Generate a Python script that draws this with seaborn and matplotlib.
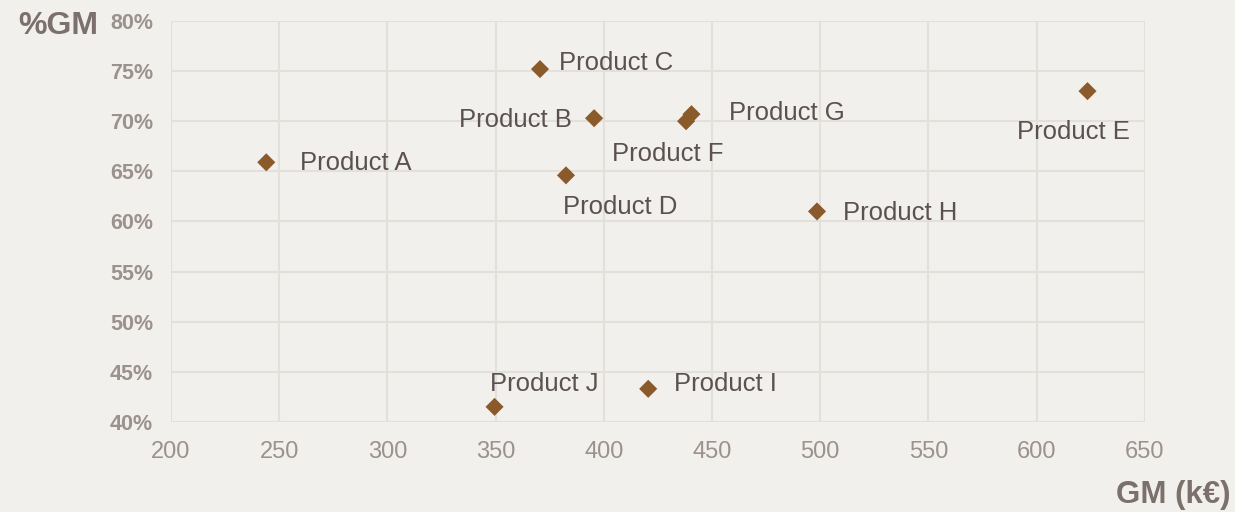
import pandas as pd
import matplotlib.pyplot as plt
import seaborn as sns
from matplotlib.ticker import FuncFormatter

products = ["Product A", "Product B", "Product C", "Product D", "Product E",
            "Product F", "Product G", "Product H", "Product I", "Product J"]
gm_keur = [244, 395.5, 370.5, 382.5, 623.5, 438, 440.5, 498.5, 420.5, 349.5]
gm_pct = [65.9, 70.3, 75.2, 64.6, 73.0, 70.0, 70.7, 61.0, 43.3, 41.5]

# label offsets in pixels (dx, dy, ha)
label_pos = {"Product A": (34, -1, "left"),
             "Product B": (-22, -2, "right"),
             "Product C": (19, 6, "left"),
             "Product D": (-3, -32, "left"),
             "Product E": (-14, -41, "center"),
             "Product F": (-74, -33, "left"),
             "Product G": (38, 1, "left"),
             "Product H": (26, -2, "left"),
             "Product I": (26, 5, "left"),
             "Product J": (-5, 23, "left")}

bg = "#F2F0ED"
grid_c = "#E3E0DC"
tick_c = "#9B918D"
title_c = "#7B706B"
text_c = "#5A5150"
marker_c = "#8B5A2B"

df = pd.DataFrame({"product": products, "gm": gm_keur, "pct": gm_pct})

sns.set_style("white")
plt.rcParams["font.family"] = ["Liberation Sans", "DejaVu Sans"]

fig = plt.figure(figsize=(12.35, 5.12), dpi=100, facecolor=bg)
ax = fig.add_axes([0.1385, 0.176, 0.927 - 0.1385, 0.959 - 0.176])
ax.set_facecolor(bg)

sns.scatterplot(data=df, x="gm", y="pct", marker="D", s=85, color=marker_c,
                edgecolor="none", ax=ax, zorder=3)

for name, x, y in zip(products, gm_keur, gm_pct):
    dx, dy, ha = label_pos[name]
    ax.annotate(name, (x, y), xytext=(dx, dy), textcoords="offset pixels",
                ha=ha, va="center", fontsize=18.5, color=text_c)

ax.set_xlim(200, 650)
ax.set_ylim(40, 80)
ax.set_xticks(range(200, 651, 50))
ax.set_yticks(range(40, 81, 5))
ax.yaxis.set_major_formatter(FuncFormatter(lambda v, p: f"{v:.0f}%"))
ax.grid(True, color=grid_c, linewidth=1.5)
ax.set_axisbelow(True)
for s in ax.spines.values():
    s.set_visible(False)
ax.tick_params(axis="x", length=0, pad=14, labelsize=17, labelcolor=tick_c)
ax.tick_params(axis="y", length=0, pad=13, labelsize=15.5, labelcolor=tick_c)
for lb in ax.get_yticklabels():
    lb.set_fontweight("bold")
ax.set_xlabel("")
ax.set_ylabel("")

fig.text(18 / 1235, 1 - 26 / 512, "%GM", fontsize=23, fontweight="bold",
         color=title_c, ha="left", va="center")
fig.text(1230 / 1235, 1 - 495 / 512, "GM (k€)", fontsize=22.5, fontweight="bold",
         color=title_c, ha="right", va="center")

fig.savefig("out.png", dpi=100, facecolor=bg)
